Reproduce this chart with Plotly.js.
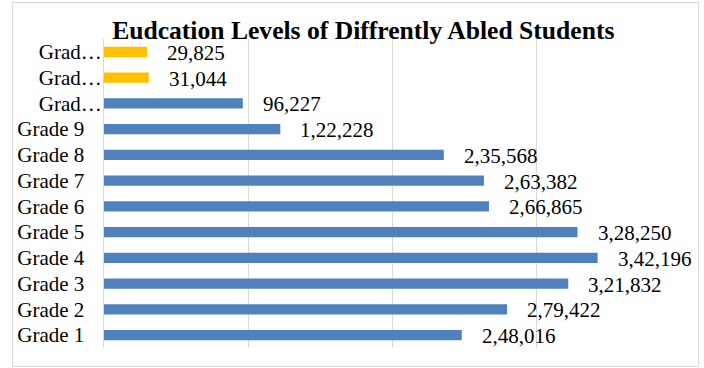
<!DOCTYPE html>
<html>
<head>
<meta charset="utf-8">
<script src="https://cdn.plot.ly/plotly-3.0.1.min.js"></script>
<style>
  html, body { margin: 0; padding: 0; background: #fff; }
  #wrap { position: relative; width: 704px; height: 368px; }
  #chart { width: 704px; height: 368px; }
  #frame { position: absolute; left: 12px; top: 2px; width: 685px; height: 363px;
           border: 1px solid #d9d9d9; pointer-events: none; }
</style>
</head>
<body>
<div id="wrap">
  <div id="chart"></div>
  <div id="frame"></div>
</div>
<script>
// Students per grade, bottom to top
const categories = ["Grade 1", "Grade 2", "Grade 3", "Grade 4", "Grade 5", "Grade 6",
                    "Grade 7", "Grade 8", "Grade 9", "Grade 10", "Grade 11", "Grade 12"];
const tickLabels = ["Grade 1", "Grade 2", "Grade 3", "Grade 4", "Grade 5", "Grade 6",
                    "Grade 7", "Grade 8", "Grade 9", "Grad…", "Grad…", "Grad…"];
const students = [248016, 279422, 321832, 342196, 328250, 266865,
                  263382, 235568, 122228, 96227, 31044, 29825];
const barColors = ["#4f81bd", "#4f81bd", "#4f81bd", "#4f81bd", "#4f81bd", "#4f81bd",
                   "#4f81bd", "#4f81bd", "#4f81bd", "#4f81bd", "#ffc000", "#ffc000"];

// Indian digit grouping: 2,48,016
function fmtIN(n) {
  const s = String(n);
  if (s.length <= 3) return s;
  const last3 = s.slice(-3);
  const rest = s.slice(0, -3).replace(/\B(?=(\d{2})+(?!\d))/g, ",");
  return rest + "," + last3;
}

// full grade names sit a little further from the axis than the truncated ones
const shownTicks = tickLabels.map(t => t.endsWith("…") ? t : t + "\u00a0\u00a0\u00a0\u200a");

const serif = "Liberation Serif, Times New Roman, serif";

const trace = {
  type: "bar",
  orientation: "h",
  y: categories,
  x: students,
  width: 0.39,
  marker: { color: barColors },
  hoverinfo: "none"
};

const labels = categories.map((c, i) => ({
  x: students[i],
  y: c,
  xref: "x",
  yref: "y",
  text: fmtIN(students[i]),
  showarrow: false,
  xanchor: "left",
  yanchor: "middle",
  xshift: 18,
  yshift: -1,
  font: { family: serif, size: 21, color: "#000" }
}));

const layout = {
  width: 704,
  height: 368,
  margin: { l: 104, r: 23, t: 39, b: 20 },
  paper_bgcolor: "#fff",
  plot_bgcolor: "#fff",
  showlegend: false,
  title: {
    text: "<b>Eudcation Levels of Diffrently Abled Students</b>",
    font: { family: serif, size: 25.6, color: "#000" },
    x: 0.516,
    xanchor: "center",
    xref: "container",
    y: 0.918,
    yanchor: "middle",
    yref: "container"
  },
  xaxis: {
    range: [0, 400000],
    dtick: 100000,
    showgrid: true,
    gridcolor: "#d9d9d9",
    gridwidth: 1,
    showticklabels: false,
    zeroline: false,
    showline: false,
    fixedrange: true
  },
  yaxis: {
    type: "category",
    categoryorder: "array",
    categoryarray: categories,
    tickvals: categories,
    ticktext: shownTicks,
    range: [-0.5, 11.5],
    showgrid: false,
    zeroline: false,
    showline: true,
    linecolor: "#d9d9d9",
    linewidth: 1,
    ticks: "",
    ticklabelstandoff: -3,
    tickfont: { family: serif, size: 21, color: "#000" },
    fixedrange: true
  },
  annotations: labels
};

Plotly.newPlot("chart", [trace], layout, { displayModeBar: false, staticPlot: true });
</script>
</body>
</html>
